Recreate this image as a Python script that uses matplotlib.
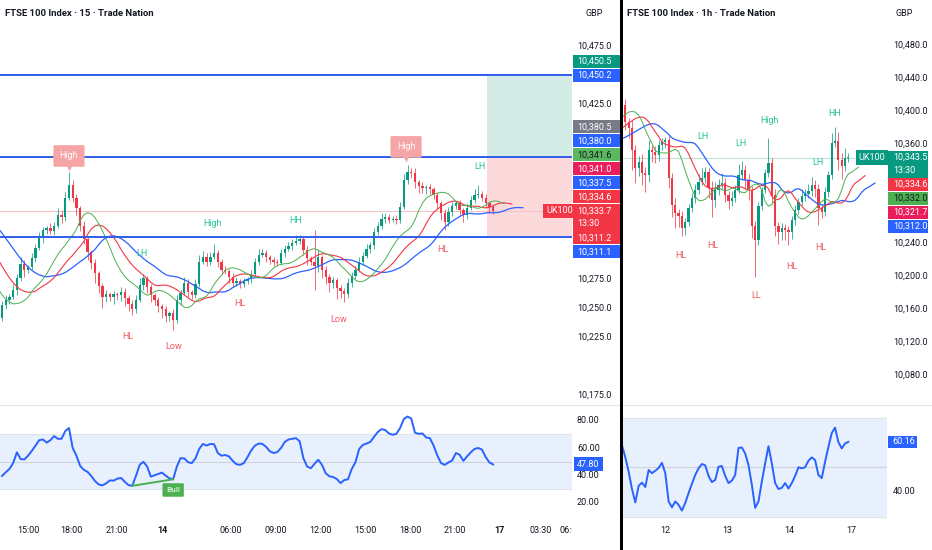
import numpy as np
import matplotlib
matplotlib.use("Agg")
import matplotlib.pyplot as plt
from matplotlib.patches import Rectangle
from matplotlib.transforms import blended_transform_factory, Bbox, TransformedBbox

plt.rcParams['font.family'] = ['Roboto', 'DejaVu Sans']

W, H = 932, 550
GREEN = '#089981'
RED = '#f23645'
BLUE = '#2962ff'
TXT = '#131722'
PIV_G = '#22c39a'
PIV_R = '#ef5a62'

# ---------------- 15 min chart ----------------
open0_15 = 10242
close_15 = [10253, 10257, 10260, 10266, 10276, 10288, 10283, 10285, 10293, 10302,
            10310, 10317, 10319, 10316, 10321, 10330, 10328, 10345, 10356, 10345,
            10336, 10321, 10309, 10298, 10289, 10280, 10269, 10260, 10262, 10260,
            10262, 10261, 10264, 10259, 10254, 10249, 10257, 10270, 10276, 10268,
            10261, 10257, 10252, 10249, 10243, 10246, 10240, 10257, 10263, 10272,
            10264, 10261, 10271, 10290, 10294, 10290, 10294, 10297, 10290, 10283,
            10282, 10277, 10272, 10273, 10271, 10273, 10275, 10279, 10290, 10296,
            10297, 10294, 10291, 10290, 10289, 10297, 10301, 10303, 10306, 10308,
            10309, 10300, 10293, 10290, 10286, 10294, 10283, 10277, 10272, 10274,
            10267, 10265, 10262, 10272, 10278, 10283, 10290, 10295, 10301, 10304,
            10315, 10321, 10327, 10328, 10326, 10327, 10326, 10337, 10360, 10367,
            10366, 10358, 10355, 10353, 10354, 10352, 10347, 10340, 10332, 10324,
            10333, 10338, 10340, 10334, 10330, 10336, 10343, 10347, 10348, 10345,
            10340, 10337, 10333.7]
up_15 = [3, 4, 2, 5, 3, 6, 3, 2, 4, 3,
         5, 3, 2, 4, 3, 6, 4, 5, 11, 4,
         3, 2, 4, 3, 2, 3, 2, 3, 4, 2,
         3, 2, 4, 3, 2, 3, 4, 6, 3, 2,
         3, 2, 3, 2, 3, 2, 3, 4, 3, 5,
         3, 2, 4, 6, 5, 3, 4, 8, 3, 2,
         3, 2, 3, 4, 2, 3, 2, 4, 3, 5,
         4, 3, 2, 3, 2, 4, 3, 4, 3, 5,
         4, 2, 3, 2, 27, 6, 2, 3, 2, 3,
         2, 3, 2, 4, 3, 3, 4, 3, 4, 3,
         4, 3, 5, 4, 3, 2, 3, 4, 5, 6,
         3, 4, 2, 3, 2, 3, 2, 3, 2, 3,
         4, 3, 2, 3, 2, 4, 3, 5, 8, 3,
         3, 2, 2]
dn_15 = [3, 4, 3, 2, 5, 3, 6, 3, 2, 3,
         2, 4, 3, 2, 3, 2, 5, 3, 2, 4,
         6, 5, 4, 7, 5, 8, 6, 10, 5, 4,
         6, 4, 5, 7, 6, 5, 3, 2, 4, 5,
         6, 4, 5, 7, 5, 4, 9, 3, 4, 2,
         4, 3, 2, 3, 2, 4, 3, 2, 5, 4,
         3, 5, 4, 3, 4, 3, 2, 3, 2, 3,
         2, 4, 3, 4, 3, 2, 3, 2, 3, 2,
         3, 4, 6, 3, 20, 5, 7, 6, 8, 5,
         9, 6, 7, 3, 4, 3, 2, 3, 2, 4,
         3, 2, 3, 4, 3, 2, 4, 3, 2, 3,
         4, 5, 6, 4, 5, 4, 3, 5, 6, 7,
         3, 4, 3, 4, 6, 3, 2, 3, 2, 3,
         4, 5, 3]
# median prices of the bars before the visible range (feed the Alligator)
pre_15 = [10345, 10342, 10340, 10336, 10333, 10330, 10326, 10322, 10318, 10314,
          10308, 10302, 10296, 10290, 10282, 10274, 10266, 10258, 10252, 10247,
          10244, 10242, 10243, 10245]
rsi_15 = [39.3, 42, 44.5, 48.8, 56.8, 51.8, 51.5, 54.3, 57.8, 61.8,
          65.8, 66.3, 64, 65.8, 68.8, 66.8, 66.8, 72.5, 74.8, 60,
          54.3, 46.8, 43.8, 42.3, 39.3, 35.5, 33, 32.3, 33.8, 36,
          35.8, 37.3, 37.8, 35, 32.5, 32, 39.3, 47.5, 49.8, 46.3,
          38.8, 39.8, 40.8, 41.8, 39.5, 37.5, 36.8, 46.3, 52.5, 52.3,
          49.5, 48.8, 52.3, 59.3, 63, 61.8, 63, 62.8, 56.3, 54.3,
          54.8, 53.8, 50.5, 48, 47.5, 48.8, 53.3, 58.3, 61.8, 63.3,
          63, 60.8, 57.5, 56.3, 57, 60, 64.5, 66.3, 66.8, 67.3,
          65, 52.5, 46.3, 45, 48.3, 51.3, 47.5, 41.3, 39, 38.5,
          37, 34, 36.3, 36.8, 44.5, 49.5, 59.3, 62.3, 63.3, 64.5,
          68.3, 71.8, 74, 73.3, 70.8, 69.8, 70.5, 74.8, 81.5, 83.3,
          81.8, 71.3, 70.5, 70.8, 67.8, 67.3, 61.8, 54.5, 48.8, 47.5,
          49.3, 50.8, 56.3, 55, 50.5, 53.8, 56.8, 59.3, 60, 58.8,
          53.3, 49.3, 47.8]
levels_15 = [10450.2, 10380.0, 10311.2]
tp_15 = (10380.0, 10450.2)
sl_15 = (10311.2, 10380.0)
box_start_15 = 130.4
price_ticks_15 = [10475, 10425, 10275, 10250, 10225, 10175]
rsi_ticks_15 = [80, 60, 40, 20]
time_pos_15 = [7.0, 18.8, 30.9, 43.0, 61.6, 73.7, 85.5, 97.6, 109.7, 121.8, 133.6, 144.9, 152.8]
time_lab_15 = ['15:00', '18:00', '21:00', '14', '06:00', '09:00', '12:00', '15:00',
               '18:00', '21:00', '17', '03:30', '06:00']
last_15 = 10333.7
tags_15 = [(10450.5, GREEN, 'white'), (10450.2, BLUE, 'white'), (10380.5, '#787b86', 'white'),
           (10380.0, BLUE, 'white'), (10341.6, '#5cb860', TXT), (10341.0, '#e91e5a', 'white'),
           (10337.5, BLUE, 'white'), (10334.6, RED, 'white'), (10311.2, RED, 'white'),
           (10311.1, BLUE, 'white')]
piv_txt_15 = ['LH', 'High', 'HH', 'LH', 'HL', 'Low', 'HL', 'Low', 'HL']
piv_bar_15 = [37.6, 56.7, 78.8, 128.5, 33.9, 46.0, 64.0, 90.6, 118.5]
piv_px_15 = [10296.6, 10322.3, 10325.7, 10372.0, 10226.0, 10216.7, 10253.7, 10240.0, 10300.0]
piv_up_15 = [True, True, True, True, False, False, False, False, False]
high_bar_15 = [18, 108.6]
high_px_15 = [10380.7, 10388.5]
bull_from, bull_to = 35, 46

# ---------------- 1 h chart ----------------
open0_1h = 10398
close_1h = [10407, 10387, 10379, 10353, 10331, 10338, 10325, 10322, 10353, 10350,
            10347, 10359, 10362, 10365, 10319, 10286, 10276, 10273, 10258, 10266,
            10282, 10295, 10304, 10314, 10319, 10326, 10307, 10292, 10304, 10310,
            10313, 10298, 10291, 10295, 10304, 10322, 10329, 10316, 10304, 10261,
            10244, 10285, 10304, 10325, 10337, 10298, 10261, 10253, 10258, 10256,
            10253, 10268, 10280, 10290, 10297, 10299, 10303, 10310, 10306, 10282,
            10278, 10302, 10322, 10361, 10364, 10341, 10333, 10343, 10343.5]
up_1h = [6, 8, 5, 10, 6, 8, 10, 7, 12, 6,
         8, 6, 5, 4, 5, 6, 8, 5, 6, 4,
         5, 6, 8, 10, 12, 6, 5, 8, 10, 7,
         12, 6, 5, 8, 6, 14, 10, 6, 8, 5,
         6, 5, 4, 5, 30, 6, 8, 5, 6, 5,
         4, 5, 6, 5, 8, 6, 8, 10, 6, 5,
         4, 6, 5, 12, 16, 10, 8, 12, 6]
dn_1h = [6, 10, 12, 24, 18, 10, 15, 20, 8, 12,
         10, 8, 6, 7, 12, 14, 18, 14, 10, 8,
         6, 5, 6, 5, 4, 6, 12, 20, 8, 6,
         5, 8, 10, 6, 5, 4, 6, 10, 12, 15,
         45, 6, 5, 4, 5, 10, 12, 14, 10, 12,
         15, 8, 6, 5, 4, 6, 5, 6, 10, 20,
         8, 5, 6, 4, 5, 12, 15, 6, 5]
pre_1h = [10355, 10358, 10360, 10362, 10364, 10366, 10368, 10370, 10373, 10376,
          10380, 10384, 10388, 10392, 10396, 10400, 10403, 10406, 10408, 10410]
rsi_1h = [58.8, 53.9, 48.1, 41.1, 35.7, 42.4, 43.7, 41.9, 48.8, 47.5,
          48.5, 49.6, 51.7, 47.5, 36.1, 33.7, 36.1, 34.7, 32.4, 35.5,
          39.5, 43.2, 46.8, 49.5, 51.2, 50.7, 46.4, 43.9, 44.8, 50.1,
          50.4, 46.4, 43.5, 44.5, 46.8, 57.7, 57.9, 55.5, 50.8, 42.8,
          33.5, 36.1, 44.1, 51.5, 58.4, 51.5, 43.5, 41.1, 41.6, 43.5,
          41.3, 43.5, 46.4, 49.9, 49.5, 49.9, 52.5, 53.9, 52.8, 46.8,
          45.5, 52.1, 58.1, 63.7, 65.9, 60.1, 57.5, 59.5, 60.16]
price_ticks_1h = [10480, 10440, 10400, 10360, 10240, 10200, 10160, 10120, 10080]
rsi_ticks_1h = [40]
time_pos_1h = [12.9, 31.5, 50.2, 68.8]
time_lab_1h = ['12', '13', '14', '17']
last_1h = 10343.5
tags_1h = [(10334.6, RED, 'white'), (10332.0, '#4caf50', TXT), (10321.7, '#e91e5a', 'white'),
           (10312.0, BLUE, 'white')]
piv_txt_1h = ['LH', 'LH', 'High', 'HH', 'LH', 'HL', 'HL', 'LL', 'HL', 'HL']
piv_bar_1h = [24.3, 35.7, 44.4, 64.0, 58.9, 17.7, 27.3, 40.2, 51.0, 59.8]
piv_px_1h = [10368.5, 10360.0, 10387.9, 10396.4, 10337.0, 10224.3, 10236.4, 10175.8, 10211.0, 10234.0]
piv_up_1h = [True, True, True, True, True, False, False, False, False, False]


def box(x0, y0, x1, y1):
    return [x0 / W, 1 - y1 / H, (x1 - x0) / W, (y1 - y0) / H]


def smma(vals, n):
    out, s = [], vals[0]
    for v in vals:
        s = (s * (n - 1) + v) / n
        out.append(s)
    return np.array(out)


def candles(ax, first_open, closes, up, dn, width):
    opens = [first_open] + list(closes[:-1])
    mids = []
    for i, (o, c, u, d) in enumerate(zip(opens, closes, up, dn)):
        col = GREEN if c >= o else RED
        hi, lo = max(o, c) + u, min(o, c) - d
        ax.vlines(i, lo, hi, color=col, lw=0.7, alpha=0.75, zorder=3)
        ax.bar(i, max(abs(c - o), 0.9), bottom=min(o, c), width=width, color=col,
               linewidth=0, zorder=4)
        mids.append((hi + lo) / 2)
    return np.array(mids)


def alligator(ax, pre, mids):
    series = np.concatenate([pre, mids])
    idx = np.arange(len(series)) - len(pre)
    for n, shift, col, lw in ((13, 8, BLUE, 0.9), (8, 5, RED, 0.8), (5, 3, '#4caf50', 0.7)):
        ax.plot(idx + shift, smma(series, n), color=col, lw=lw, zorder=5)


def axis_text(ax, tx, vals, fmt):
    tr = blended_transform_factory(ax.transAxes, ax.transData)
    for v in vals:
        ax.text(tx, v, fmt.format(v), transform=tr, fontsize=6.5, color=TXT,
                ha='left', va='center', clip_on=False)


def tag(ax, x0, x1, tx, y, h, fc, text, tc):
    tr = blended_transform_factory(ax.transAxes, ax.transData)
    ax.add_patch(Rectangle((x0, y - h / 2), x1 - x0, h, transform=tr, fc=fc, ec='none',
                           clip_on=False, zorder=10))
    ax.text(tx, y, text, transform=tr, fontsize=6.5, color=tc, ha='left', va='center',
            clip_on=False, zorder=11)


def price_tags(ax, x0, x1, tx, px_per, last, last_col, tags):
    tr = blended_transform_factory(ax.transAxes, ax.transData)
    step = 14 / px_per
    top, bottom = last + 7 / px_per, last - 20 / px_per
    ax.add_patch(Rectangle((x0, bottom), x1 - x0, top - bottom, transform=tr, fc=last_col,
                           ec='none', clip_on=False, zorder=10))
    ax.text(tx, last, f'{last:,.1f}', transform=tr, fontsize=6.5, color='white',
            ha='left', va='center', clip_on=False, zorder=11)
    ax.text(tx, last - 13 / px_per, '13:30', transform=tr, fontsize=6.5, color='white',
            ha='left', va='center', clip_on=False, zorder=11)
    lim = top
    for v, fc, tc in sorted([t for t in tags if t[0] > last]):
        y = max(v, lim + step / 2)
        lim = y + step / 2
        tag(ax, x0, x1, tx, y, step - 1 / px_per, fc, f'{v:,.1f}', tc)
    lim = bottom
    for v, fc, tc in sorted([t for t in tags if t[0] <= last], reverse=True):
        y = min(v, lim - step / 2)
        lim = y - step / 2
        tag(ax, x0, x1, tx, y, step - 1 / px_per, fc, f'{v:,.1f}', tc)


def pivots(ax, texts, bars, prices, ups):
    for t, b, p, u in zip(texts, bars, prices, ups):
        ax.text(b, p, t, fontsize=6.5, color=PIV_G if u else PIV_R, ha='center',
                va='center', zorder=8)


def time_axis(ax, pos, labels, bold):
    tr = blended_transform_factory(ax.transData, ax.transAxes)
    for p, l in zip(pos, labels):
        t = ax.text(p, -0.087, l, transform=tr, fontsize=6.5, color=TXT, ha='center',
                    va='center', fontweight='bold' if (bold and ':' not in l) else 'normal',
                    clip_on=True)
        t.set_clip_box(TransformedBbox(Bbox([[0, -0.5], [1, 1]]), ax.transAxes))


fig = plt.figure(figsize=(W / 100, H / 100), dpi=100)
fig.patch.set_facecolor('white')

ax1 = fig.add_axes(box(0, 0, 572, 405))
r1 = fig.add_axes(box(0, 405, 572, 520))
ax2 = fig.add_axes(box(623, 0, 887, 405))
r2 = fig.add_axes(box(623, 405, 887, 520))
for a in (ax1, r1, ax2, r2):
    a.set_axis_off()

# ---- left price pane
ax1.set_xlim(-0.538, 153.2)
ax1.set_ylim(10166.9, 10514.6)
ax1.add_patch(Rectangle((box_start_15, tp_15[0]), 40, tp_15[1] - tp_15[0], fc='#d3ede6', ec='none', zorder=1))
ax1.add_patch(Rectangle((box_start_15, sl_15[0]), 40, sl_15[1] - sl_15[0], fc='#fcd9db', ec='none', zorder=1))
ax1.axhline(last_15, color='#f6c3c6', lw=0.8, zorder=2)
for lv in levels_15:
    ax1.axhline(lv, color='#2f5ee8', lw=1.4, zorder=6)
mids15 = candles(ax1, open0_15, close_15, up_15, dn_15, 0.62)
alligator(ax1, pre_15, mids15)
pivots(ax1, piv_txt_15, piv_bar_15, piv_px_15, piv_up_15)
for b, p in zip(high_bar_15, high_px_15):
    ax1.text(b, p, 'High', fontsize=6.5, color='white', ha='center', va='center', zorder=9,
             bbox=dict(boxstyle='round,pad=0.7,rounding_size=0.15', fc='#f6a5a6', ec='none'))
    ax1.plot(b, p - 10.6, marker='v', ms=5, color='#f6a5a6', mec='none', zorder=9)
ax1.text(0.9545, last_15, 'UK100', transform=blended_transform_factory(ax1.transAxes, ax1.transData),
         fontsize=6.5, color='white', ha='left', va='center', zorder=12,
         bbox=dict(boxstyle='square,pad=0.3', fc=RED, ec='none'))
axis_text(ax1, 1.0087, price_ticks_15, '{:,.1f}')
price_tags(ax1, 1.0017, 620 / 572, 1.0087, 1.165, last_15, RED, tags_15)

# ---- left RSI pane
r1.set_xlim(-0.538, 153.2)
r1.set_ylim(6.67, 91.85)
r1.axhspan(30, 70, fc='#e8f0fd', ec='none', zorder=1)
for lv, c in ((70, '#dfe3ea'), (30, '#dfe3ea'), (50, '#cfd3dc')):
    r1.axhline(lv, color=c, lw=0.8, zorder=2)
r1.plot(np.arange(len(rsi_15)), rsi_15, color=BLUE, lw=1.4, zorder=5)
r1.plot([bull_from, bull_to], [rsi_15[bull_from], rsi_15[bull_to]], color='#4caf50', lw=1.4, zorder=6)
r1.text(bull_to, 28.9, 'Bull', fontsize=6, color='white', ha='center', va='center', zorder=7,
        bbox=dict(boxstyle='round,pad=0.45,rounding_size=0.15', fc='#4caf50', ec='none'))
axis_text(r1, 1.0087, rsi_ticks_15, '{:.2f}')
tag(r1, 1.0035, 603 / 572, 1.0087, rsi_15[-1], 14 / 1.35, BLUE, f'{rsi_15[-1]:.2f}', 'white')
time_axis(r1, time_pos_15, time_lab_15, True)

# ---- right price pane
ax2.set_xlim(0.3, 79.6)
ax2.set_ylim(10043.6, 10534.5)
ax2.axhline(last_1h, color='#bfe0da', lw=0.8, zorder=2)
mids1h = candles(ax2, open0_1h, close_1h, up_1h, dn_1h, 0.66)
alligator(ax2, pre_1h, mids1h)
pivots(ax2, piv_txt_1h, piv_bar_1h, piv_px_1h, piv_up_1h)
ax2.text(0.893, last_1h, 'UK100', transform=blended_transform_factory(ax2.transAxes, ax2.transData),
         fontsize=6.5, color='white', ha='left', va='center', zorder=12,
         bbox=dict(boxstyle='square,pad=0.3', fc=GREEN, ec='none'))
axis_text(ax2, 1.022, price_ticks_1h, '{:,.1f}')
price_tags(ax2, 1.004, 928 / 264 - 623 / 264, 1.022, 0.825, last_1h, GREEN, tags_1h)

# ---- right RSI pane
r2.set_xlim(0.3, 79.6)
r2.set_ylim(28.6, 75.05)
r2.axhspan(30, 70, fc='#e8f0fd', ec='none', zorder=1)
for lv, c in ((70, '#dfe3ea'), (30, '#dfe3ea'), (50, '#cfd3dc')):
    r2.axhline(lv, color=c, lw=0.8, zorder=2)
r2.plot(np.arange(len(rsi_1h)), rsi_1h, color=BLUE, lw=1.4, zorder=5)
axis_text(r2, 1.022, rsi_ticks_1h, '{:.2f}')
tag(r2, 1.004, (917 - 623) / 264, 1.019, rsi_1h[-1], 12 / 2.475, BLUE, f'{rsi_1h[-1]:.2f}', 'white')
time_axis(r2, time_pos_1h, time_lab_1h, False)

# ---- headers, separators, divider
fig.text(5 / W, 1 - 13 / H, 'FTSE 100 Index · 15 · Trade Nation', fontsize=6.8, color=TXT,
         fontweight='bold', ha='left', va='center')
fig.text(627 / W, 1 - 13 / H, 'FTSE 100 Index · 1h · Trade Nation', fontsize=6.8, color=TXT,
         fontweight='bold', ha='left', va='center')
fig.text(585 / W, 1 - 13 / H, 'GBP', fontsize=6.5, color=TXT, ha='left', va='center')
fig.text(896 / W, 1 - 13 / H, 'GBP', fontsize=6.5, color=TXT, ha='left', va='center')
fig.add_artist(plt.Line2D([0, 619 / W], [1 - 405 / H] * 2, color='#e0e3eb', lw=0.8))
fig.add_artist(plt.Line2D([623 / W, 1], [1 - 405 / H] * 2, color='#e0e3eb', lw=0.8))
fig.add_artist(Rectangle((619.5 / W, 0), 3 / W, 1, transform=fig.transFigure, fc='black', ec='none'))

fig.savefig('out.png', dpi=100)
